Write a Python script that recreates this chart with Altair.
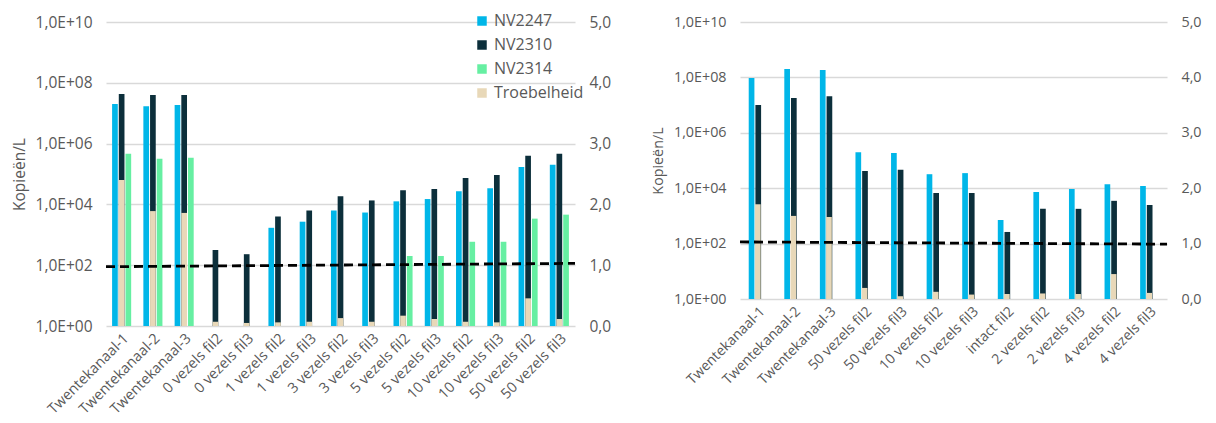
import altair as alt
import pandas as pd

# ---------------- data ----------------
cats_left = ["Twentekanaal-1", "Twentekanaal-2", "Twentekanaal-3",
             "0 vezels fil2", "0 vezels fil3", "1 vezels fil2", "1 vezels fil3",
             "3 vezels fil2", "3 vezels fil3", "5 vezels fil2", "5 vezels fil3",
             "10 vezels fil2", "10 vezels fil3", "50 vezels fil2", "50 vezels fil3"]
nv2247_left = [2.0e7, 1.7e7, 1.85e7, None, None, 1.7e3, 2.7e3, 6.3e3, 5.4e3,
               1.26e4, 1.5e4, 2.7e4, 3.4e4, 1.7e5, 2.0e5]
nv2310_left = [4.3e7, 4.0e7, 4.0e7, 316, 230, 4.0e3, 6.3e3, 1.85e4, 1.35e4,
               2.9e4, 3.2e4, 7.4e4, 9.3e4, 4.0e5, 4.6e5]
nv2314_left = [4.6e5, 3.2e5, 3.4e5, None, None, None, None, None, None,
               200, 200, 590, 590, 3.4e3, 4.6e3]
troebel_left = [2.40, 1.89, 1.86, 0.07, 0.05, 0.06, 0.07, 0.13, 0.07,
                0.17, 0.115, 0.07, 0.06, 0.455, 0.115]
dash_left = [0.975, 1.03]

cats_right = ["Twentekanaal-1", "Twentekanaal-2", "Twentekanaal-3",
              "50 vezels fil2", "50 vezels fil3", "10 vezels fil2", "10 vezels fil3",
              "intact fil2", "2 vezels fil2", "2 vezels fil3", "4 vezels fil2", "4 vezels fil3"]
nv2247_right = [9.5e7, 2.0e8, 1.85e8, 2.0e5, 1.85e5, 3.2e4, 3.5e4, 710,
                7.3e3, 9.3e3, 1.4e4, 1.2e4]
nv2310_right = [1.0e7, 1.8e7, 2.1e7, 4.2e4, 4.6e4, 6.7e3, 6.7e3, 263,
                1.8e3, 1.8e3, 3.5e3, 2.5e3]
troebel_right = [1.71, 1.50, 1.48, 0.20, 0.05, 0.13, 0.08, 0.09, 0.10, 0.09, 0.45, 0.11]
dash_right = [1.03, 0.99]

log_ticks = [1, 1e2, 1e4, 1e6, 1e8, 1e10]
right_ticks = [0, 1, 2, 3, 4, 5]

FONT = "Open Sans"
GRAY = "#595959"
GRID = "#d9d9d9"
COLORS = {"NV2247": "#00B6E8", "NV2310": "#0C2F3B", "NV2314": "#66EFA2",
          "Troebelheid": "#E8D8B8"}

LOG_EXPR = ("'1,0E+' + (round(log(datum.value)/LN10) < 10 ? '0' : '') "
            "+ round(log(datum.value)/LN10)")
COMMA_EXPR = "replace(format(datum.value, '.1f'), '.', ',')"


def panel(cats, series, troebel, dash, width, height, pad_inner, off_pad,
          beige_w, font_y, font_x, font_leg, leg_x, leg_y, leg_row, sym):
    names = list(series.keys())
    rows = []
    for name, vals in series.items():
        for c, v in zip(cats, vals):
            if v is not None:
                rows.append({"cat": c, "series": name, "value": v, "base": 1})
    df = pd.DataFrame(rows)
    df_t = pd.DataFrame({"cat": cats, "troebel": troebel, "name": "Troebelheid"})
    df_d = pd.DataFrame({"px": [0, 1], "level": dash})

    dom = names + ["Troebelheid"]
    cscale = alt.Scale(domain=dom, range=[COLORS[d] for d in dom])
    legend = alt.Legend(title=None, orient="none", legendX=leg_x, legendY=leg_y,
                        symbolType="square", symbolSize=sym, symbolStrokeWidth=0,
                        labelFont=FONT, labelFontSize=font_leg, labelColor=GRAY,
                        rowPadding=leg_row, labelOffset=4)

    def xscale():
        return alt.Scale(domain=cats, paddingInner=pad_inner, paddingOuter=pad_inner / 2)

    bars = alt.Chart(df).mark_bar().encode(
        x=alt.X("cat:N", scale=xscale(), sort=cats,
                axis=alt.Axis(title=None, labelAngle=-45, labelFont=FONT,
                              labelFontSize=font_x, labelColor=GRAY, domain=False,
                              ticks=False, labelPadding=5, labelOverlap=False,
                              labelLimit=300)),
        xOffset=alt.XOffset("series:N", scale=alt.Scale(domain=names, paddingInner=off_pad,
                                                         paddingOuter=0)),
        y=alt.Y("value:Q", scale=alt.Scale(type="log", domain=[1, 1e10], nice=False),
                axis=alt.Axis(title="Kopieën/L", values=log_ticks, labelExpr=LOG_EXPR,
                              labelFont=FONT, labelFontSize=font_y, labelColor=GRAY,
                              titleFont=FONT, titleFontSize=font_y, titleColor=GRAY,
                              titleFontWeight="normal", grid=True, gridColor=GRID,
                              gridWidth=1.3, domain=False, ticks=False, labelPadding=14,
                              titlePadding=8)),
        y2="base:Q",
        color=alt.Color("series:N", scale=cscale, legend=legend),
    )

    beige = alt.Chart(df_t).mark_bar(width=beige_w).encode(
        x=alt.X("cat:N", scale=xscale(), sort=cats, axis=None),
        y=alt.Y("troebel:Q", scale=alt.Scale(domain=[0, 5], nice=False),
                axis=alt.Axis(orient="right", title=None, values=right_ticks,
                              labelExpr=COMMA_EXPR, labelFont=FONT,
                              labelFontSize=font_y, labelColor=GRAY, grid=False,
                              domain=False, ticks=False, labelPadding=14)),
        color=alt.Color("name:N", scale=cscale, legend=legend),
    )

    line = alt.Chart(df_d).mark_line(color="black", strokeDash=[9, 5],
                                      strokeWidth=2.8).encode(
        x=alt.X("px:Q", scale=alt.Scale(domain=[0, 1], nice=False), axis=None),
        y=alt.Y("level:Q", scale=alt.Scale(domain=[0, 5], nice=False), axis=None),
    )

    return alt.layer(bars, beige, line).resolve_scale(
        x="independent", y="independent").properties(width=width, height=height)


left = panel(cats_left,
             {"NV2247": nv2247_left, "NV2310": nv2310_left, "NV2314": nv2314_left},
             troebel_left, dash_left, 469, 304, 0.39, 0.15, 5.7,
             15.5, 14.5, 16, 368, -9, 8, 90)
right = panel(cats_right,
              {"NV2247": nv2247_right, "NV2310": nv2310_right},
              troebel_right, dash_right, 427, 277, 0.49, 0.2, 5.7,
              14.3, 14, 14.5, 336, 5, 6, 64)

chart = alt.hconcat(left, right, spacing=40).properties(
    padding={"left": 4, "top": 5, "right": 0, "bottom": 0}
).configure_view(stroke=None)

chart.save("out.html", embed_options={"renderer": "svg", "actions": False})
